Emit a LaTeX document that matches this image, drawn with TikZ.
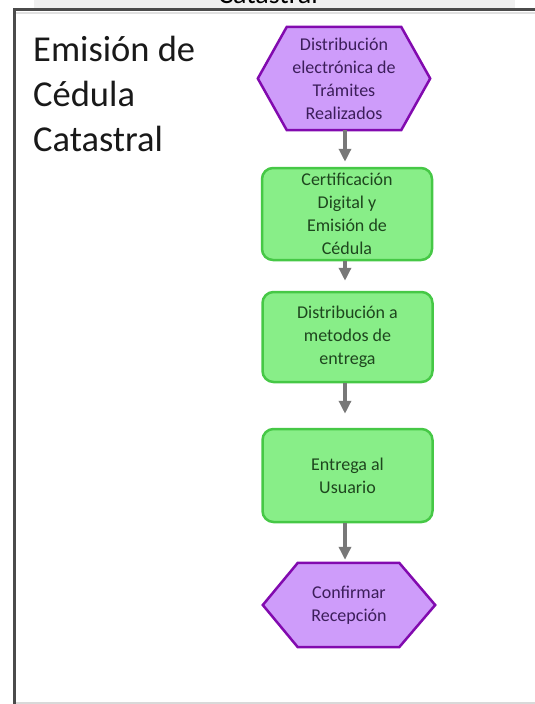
\documentclass[tikz,border=0pt]{standalone}
\usepackage{fontspec}
\setmainfont{Carlito}
\usetikzlibrary{arrows.meta,calc}
\definecolor{hexfill}{RGB}{206,156,250}
\definecolor{hexline}{RGB}{130,10,175}
\definecolor{hextext}{RGB}{60,30,90}
\definecolor{boxfill}{RGB}{136,238,136}
\definecolor{boxline}{RGB}{70,200,70}
\definecolor{boxtext}{RGB}{30,70,30}
\definecolor{arrgray}{RGB}{120,120,120}
\definecolor{bandgray}{RGB}{240,240,240}
\definecolor{framegray}{RGB}{75,75,75}
\pgfdeclarelayer{bg}
\pgfsetlayers{bg,main}
\tikzset{
  hexnode/.style={inner sep=0pt, align=center, text=hextext,
    font=\fontsize{18}{23}\selectfont},
  hexshape/.style={fill=hexfill, draw=hexline, line width=2.5pt, line join=miter},
  boxnode/.style={rectangle, rounded corners=11pt, fill=boxfill, draw=boxline,
    line width=2.5pt, align=center, text=boxtext, inner sep=0pt,
    minimum width=170pt, font=\fontsize{18}{23}\selectfont},
  arr/.style={draw=arrgray, line width=3.5pt, -{Triangle[length=13pt,width=12pt]}}
}
\begin{document}
\begin{tikzpicture}[x=1pt,y=-1pt]
\useasboundingbox (0,0) rectangle (535,704);
% top band with cut-off title
\fill[bandgray] (34,0) rectangle (515,8);
\begin{scope}
  \clip (34,0) rectangle (515,8);
  \node[anchor=base, inner sep=0pt, font=\fontsize{28}{30}\selectfont] (cut) at (268,3) {Catastral};
\end{scope}
% frame
\draw[black!12, line width=2pt] (16,13) -- (535,13);
\draw[black!15, line width=1.5pt] (16,703) -- (535,703);
\draw[framegray, line width=3pt] (14.5,704) -- (14.5,9.5) -- (535,9.5);
% title
\node[anchor=north west, inner sep=0pt, align=left, text=black!90,
  font=\fontsize{36.5}{45}\selectfont] (title) at (33,36) {Emisión de\\Cédula\\Catastral};
% nodes
\node[hexnode, minimum width=172pt, minimum height=103pt] (h1) at (344,78.5)
  {Distribución\\electrónica de\\Trámites\\Realizados};
\node[boxnode, minimum height=92pt] (b1) at (347,214) {Certificación\\Digital y\\Emisión de\\Cédula};
\node[boxnode, minimum height=90pt] (b2) at (347.5,337) {Distribución a\\metodos de\\entrega};
\node[boxnode, minimum height=93pt] (b3) at (347.5,475.5) {Entrega al\\Usuario};
\node[hexnode, minimum width=172pt, minimum height=84pt] (h2) at (349,605)
  {Confirmar\\Recepción};
\begin{pgfonlayer}{bg}
\draw[hexshape] (h1.west) -- ($(h1.north west)+(29,0)$) -- ($(h1.north east)+(-29,0)$)
  -- (h1.east) -- ($(h1.south east)+(-29,0)$) -- ($(h1.south west)+(29,0)$) -- cycle;
\draw[hexshape] (h2.west) -- ($(h2.north west)+(35,0)$) -- ($(h2.north east)+(-36,0)$)
  -- (h2.east) -- ($(h2.south east)+(-36,0)$) -- ($(h2.south west)+(35,0)$) -- cycle;
\end{pgfonlayer}
% connectors
\coordinate (c1) at (345,0);
\draw[arr, shorten >=5pt] (c1 |- h1.south) -- (c1 |- b1.north);
\draw[arr, shorten >=10pt] (c1 |- b1.south) -- (c1 |- b2.north);
\draw[arr, shorten >=14pt] (c1 |- b2.south) -- (c1 |- b3.north);
\draw[arr, shorten >=3pt] (c1 |- b3.south) -- (c1 |- h2.north);
\end{tikzpicture}
\end{document}
